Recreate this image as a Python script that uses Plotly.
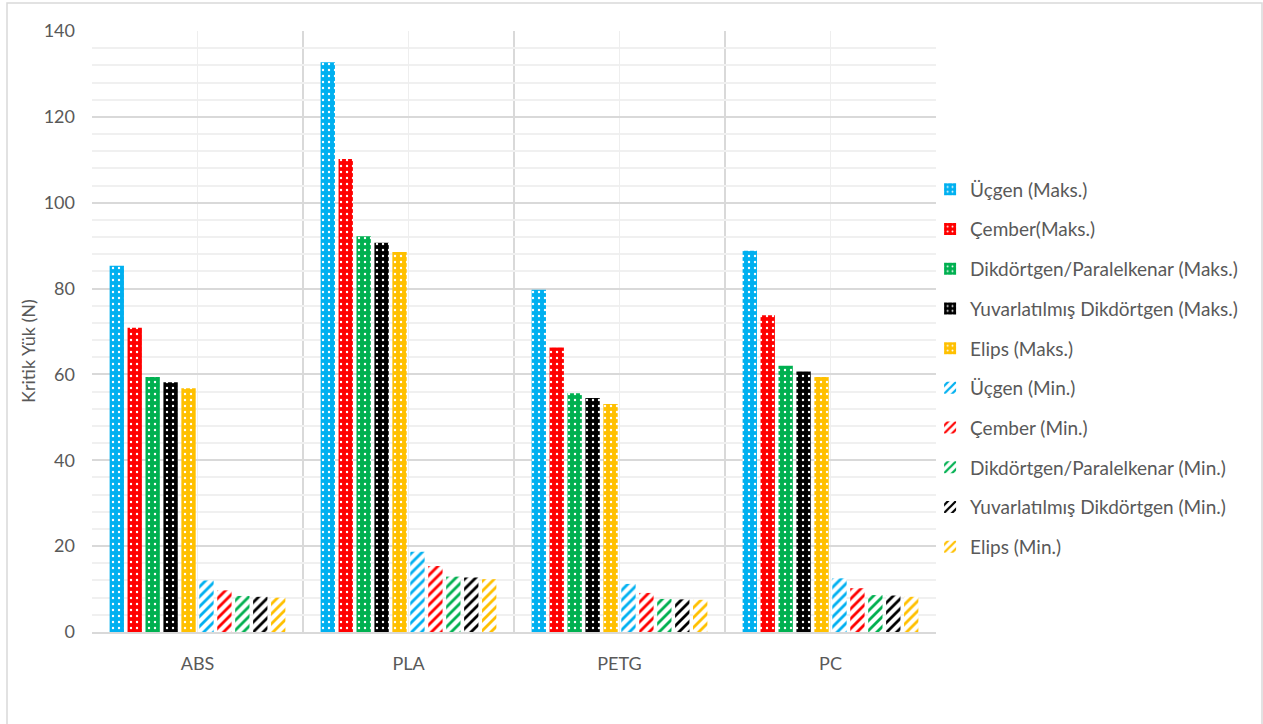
import plotly.graph_objects as go

categories = ["ABS", "PLA", "PETG", "PC"]
series_names = [
    "Üçgen (Maks.)", "Çember(Maks.)", "Dikdörtgen/Paralelkenar (Maks.)",
    "Yuvarlatılmış Dikdörtgen (Maks.)", "Elips (Maks.)",
    "Üçgen (Min.)", "Çember (Min.)", "Dikdörtgen/Paralelkenar (Min.)",
    "Yuvarlatılmış Dikdörtgen (Min.)", "Elips (Min.)",
]
ucgen_maks = [85.3, 132.7, 79.7, 88.8]
cember_maks = [70.9, 110.2, 66.3, 73.8]
dikdortgen_maks = [59.4, 92.2, 55.6, 62.0]
yuvarlatilmis_maks = [58.2, 90.7, 54.5, 60.7]
elips_maks = [56.8, 88.5, 53.1, 59.4]
ucgen_min = [12.0, 18.7, 11.2, 12.5]
cember_min = [9.7, 15.4, 9.1, 10.2]
dikdortgen_min = [8.4, 12.9, 7.7, 8.6]
yuvarlatilmis_min = [8.2, 12.7, 7.6, 8.5]
elips_min = [8.0, 12.3, 7.5, 8.2]

values = [ucgen_maks, cember_maks, dikdortgen_maks, yuvarlatilmis_maks, elips_maks,
          ucgen_min, cember_min, dikdortgen_min, yuvarlatilmis_min, elips_min]
colors = ["#00B0F0", "#FF0000", "#00B050", "#000000", "#FFC000"] * 2

x_pos = list(range(len(categories)))
TXT = "#595959"
FONT = "Lato, 'Open Sans', sans-serif"

fig = go.Figure()
for i, (name, vals, col) in enumerate(zip(series_names, values, colors)):
    if i < 5:
        pattern = dict(shape=".", bgcolor=col, fgcolor="white", size=6, solidity=0.12,
                       fillmode="replace")
    else:
        pattern = dict(shape="/", bgcolor="white", fgcolor=col, size=7, solidity=0.4,
                       fillmode="replace")
    fig.add_trace(go.Bar(
        x=x_pos, y=vals, name=name, legendgroup=f"g{i}",
        marker=dict(color=col, pattern=pattern, line=dict(width=0)),
    ))

W, H = 1263, 724
L, R, T, B = 92, 936, 31, 632
pw, ph = R - L, B - T

fig.update_layout(
    width=W, height=H,
    margin=dict(l=L, r=W - R, t=T, b=H - B, autoexpand=False),
    barmode="group", bargap=0.15, bargroupgap=0.2,
    paper_bgcolor="white", plot_bgcolor="white",
    font=dict(family=FONT, color=TXT, size=18),
    legend=dict(x=0.993, y=(B - 368) / ph, xanchor="left", yanchor="middle",
                font=dict(size=19, color=TXT, family=FONT),
                tracegroupgap=12, itemwidth=30, bgcolor="rgba(0,0,0,0)"),
    xaxis=dict(
        range=[-0.5, 3.5], tickmode="array", tickvals=x_pos, ticktext=categories,
        showgrid=True, gridcolor="#EEEEEE", gridwidth=1,
        minor=dict(tickmode="linear", tick0=-0.5, dtick=1, showgrid=True,
                   gridcolor="#D9D9D9", gridwidth=1.5),
        showline=True, linecolor="#D9D9D9", linewidth=1.5,
        ticks="", tickfont=dict(size=18, color=TXT), zeroline=False,
        ticklabelstandoff=15,
    ),
    yaxis=dict(
        range=[0, 140], dtick=20, tick0=0,
        showgrid=True, gridcolor="#D9D9D9", gridwidth=1.5,
        minor=dict(dtick=4, tick0=0, showgrid=True, gridcolor="#F0F0F0", gridwidth=1.5),
        showline=False, zeroline=False, ticks="",
        tickfont=dict(size=18, color=TXT), ticklabelstandoff=16,
    ),
    annotations=[dict(text="Kritik Yük (N)", textangle=-90, xref="paper", yref="paper",
                      x=(28 - L) / pw, y=(B - 351) / ph, xanchor="center",
                      yanchor="middle", showarrow=False,
                      font=dict(size=18, color=TXT, family=FONT))],
    shapes=[dict(type="rect", xref="paper", yref="paper",
                 x0=(7 - L) / pw, x1=(1262 - L) / pw,
                 y0=(B - 740) / ph, y1=(B - 3) / ph,
                 line=dict(color="#D9D9D9", width=1.5), fillcolor="rgba(0,0,0,0)",
                 layer="below")],
)

fig.write_html("out.html")
